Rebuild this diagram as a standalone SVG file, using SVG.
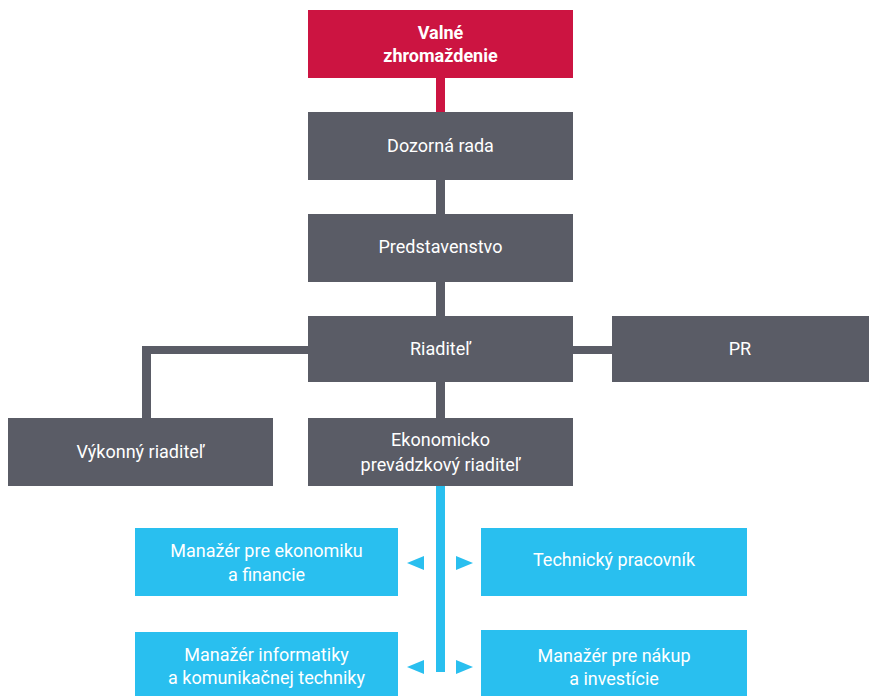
<svg xmlns="http://www.w3.org/2000/svg" width="869" height="696" viewBox="0 0 869 696">
<style>
.g{fill:#5a5c66}
.r{fill:#cc1441}
.b{fill:#29bfef}
text{font-family:"Roboto","Liberation Sans",sans-serif;font-size:18px;fill:#ffffff;text-anchor:middle}
.bold{font-weight:bold}
</style>
<rect width="869" height="696" fill="#ffffff"/>
<g id="connectors">
<rect class="r" x="436" y="78" width="9" height="34"/>
<rect class="g" x="436" y="180" width="9" height="34"/>
<rect class="g" x="436" y="282" width="9" height="34"/>
<rect class="g" x="573" y="346" width="39" height="8"/>
<rect class="g" x="142" y="346" width="166" height="8"/>
<rect class="g" x="142" y="346" width="9" height="72"/>
<rect class="g" x="436" y="382" width="9" height="36"/>
<rect class="b" x="436" y="486" width="9" height="186"/>
<polygon class="b" points="407,563 424,556 424,570"/>
<polygon class="b" points="473,563 456,556 456,570"/>
<polygon class="b" points="407,667 424,660 424,674"/>
<polygon class="b" points="473,667 456,660 456,674"/>
</g>
<g id="valne"><rect class="r" x="308" y="10" width="265" height="68"/><text class="bold" x="440.5" y="39">Valné</text><text class="bold" x="440.5" y="62">zhromaždenie</text></g>
<g id="dozorna"><rect class="g" x="308" y="112" width="265" height="68"/><text x="440.5" y="152">Dozorná rada</text></g>
<g id="predstavenstvo"><rect class="g" x="308" y="214" width="265" height="68"/><text x="440.5" y="253">Predstavenstvo</text></g>
<g id="riaditel"><rect class="g" x="308" y="316" width="265" height="66"/><text x="440.5" y="355">Riaditeľ</text></g>
<g id="pr"><rect class="g" x="612" y="316" width="257" height="66"/><text x="740" y="355">PR</text></g>
<g id="vykonny"><rect class="g" x="8" y="418" width="265" height="68"/><text x="140.5" y="458">Výkonný riaditeľ</text></g>
<g id="ekonomicko"><rect class="g" x="308" y="418" width="265" height="68"/><text x="440.5" y="446">Ekonomicko</text><text x="440.5" y="471">prevádzkový riaditeľ</text></g>
<g id="manazer-ekonomika"><rect class="b" x="135" y="528" width="263" height="68"/><text x="266.5" y="557">Manažér pre ekonomiku</text><text x="266.5" y="581">a financie</text></g>
<g id="technicky"><rect class="b" x="481" y="528" width="266" height="68"/><text x="614" y="566">Technický pracovník</text></g>
<g id="manazer-informatiky"><rect class="b" x="135" y="632" width="263" height="64"/><text x="266.5" y="661">Manažér informatiky</text><text x="266.5" y="684">a komunikačnej techniky</text></g>
<g id="manazer-nakup"><rect class="b" x="481" y="630" width="266" height="66"/><text x="614" y="662">Manažér pre nákup</text><text x="614" y="685">a investície</text></g>
</svg>
